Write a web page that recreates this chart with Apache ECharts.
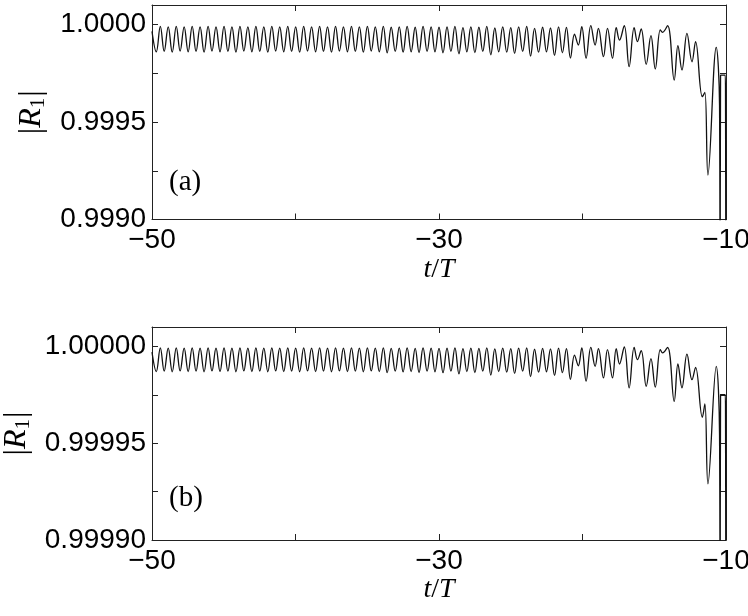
<!DOCTYPE html>
<html><head><meta charset="utf-8">
<script src="https://cdn.jsdelivr.net/npm/echarts@6/dist/echarts.min.js"></script>
<style>html,body{margin:0;padding:0;background:#fff}#c{width:748px;height:616px}</style>
</head><body><div id="c"></div>
<script>
// time (t/T) of each turning point of the trace
const tTurn = [
 -50.00,
 -49.70,-49.42,-49.15,-48.87,-48.59,-48.31,-48.04,-47.76,-47.48,-47.20,
 -46.93,-46.65,-46.37,-46.09,-45.82,-45.54,-45.26,-44.98,-44.71,-44.43,
 -44.15,-43.87,-43.60,-43.32,-43.04,-42.76,-42.49,-42.21,-41.93,-41.65,
 -41.38,-41.10,-40.82,-40.54,-40.27,-39.99,-39.71,-39.43,-39.16,-38.88,
 -38.60,-38.32,-38.05,-37.77,-37.49,-37.21,-36.94,-36.66,-36.38,-36.10,
 -35.83,-35.55,-35.27,-34.99,-34.72,-34.44,-34.16,-33.88,-33.61,-33.33,
 -33.05,-32.77,-32.50,-32.22,-31.94,-31.66,-31.39,-31.11,-30.83,-30.55,
 -30.28,-30.00,-29.72,-29.44,-29.17,-28.89,-28.61,-28.33,-28.06,-27.78,
 -27.50,-27.22,-26.95,-26.67,-26.39,-26.11,-25.84,-25.56,-25.28,-25.00,
 -24.73,-24.45,-24.17,-23.89,-23.62,-23.34,-23.06,-22.78,-22.51,-22.23,
 -21.95,-21.67,-21.40,-21.12,-20.84,-20.56,-20.29,
 -20.05,-19.75,-19.42,-19.12,-18.89,-18.54,-18.26,-17.91,-17.65,-17.42,
 -17.09,-16.75,-16.40,-16.17,-15.91,-15.56,-15.23,-14.93,-14.58,-14.42,
 -14.07,-13.61,-13.35,-13.07,-12.72,-12.37,-12.12,-11.65,-11.47,-11.26,
 -10.68,-10.45,-10.41,-10.38,-10.05,-10.03,-10.01
];
// panel (a): 1 - |R1|, in units of 1e-4
const devA = [
 0.35,
 1.40,0.10,1.38,0.12,1.42,0.10,1.36,0.12,1.40,0.10,
 1.38,0.12,1.42,0.10,1.36,0.12,1.40,0.10,1.38,0.12,
 1.42,0.10,1.36,0.12,1.40,0.10,1.38,0.12,1.42,0.10,
 1.36,0.12,1.40,0.10,1.38,0.12,1.42,0.10,1.36,0.12,
 1.40,0.10,1.38,0.12,1.42,0.10,1.36,0.12,1.40,0.10,
 1.38,0.12,1.42,0.10,1.36,0.12,1.40,0.10,1.45,0.14,
 1.38,0.12,1.42,0.10,1.40,0.14,1.44,0.10,1.38,0.12,
 1.40,0.14,1.45,0.12,1.38,0.10,1.50,0.16,1.40,0.12,
 1.44,0.14,1.38,0.10,1.55,0.18,1.40,0.12,1.42,0.16,
 1.48,0.12,1.38,0.10,1.62,0.20,1.42,0.14,1.40,0.18,
 1.58,0.12,1.45,0.15,1.72,0.50,1.05,
 0.11,1.73,0.06,1.05,0.20,1.65,0.20,1.73,0.16,0.80,
 0.06,2.16,0.16,0.88,0.23,2.04,0.57,2.28,0.28,0.40,
 0.06,2.85,1.09,2.33,0.45,1.91,0.88,3.70,3.48,7.72,
 1.17,4.13,15.0,2.60,2.60,4.60,15.0
];
// panel (b): 1 - |R1|, in units of 1e-5
const devB = [
 0.30,
 1.30,0.08,1.28,0.09,1.31,0.08,1.27,0.09,1.30,0.08,
 1.28,0.09,1.31,0.08,1.27,0.09,1.30,0.08,1.28,0.09,
 1.31,0.08,1.27,0.09,1.30,0.08,1.28,0.09,1.31,0.08,
 1.27,0.09,1.30,0.08,1.28,0.09,1.31,0.08,1.27,0.09,
 1.30,0.08,1.28,0.09,1.31,0.08,1.27,0.09,1.30,0.08,
 1.28,0.09,1.31,0.08,1.27,0.09,1.30,0.08,1.36,0.10,
 1.28,0.09,1.32,0.08,1.30,0.10,1.35,0.08,1.28,0.09,
 1.31,0.10,1.36,0.09,1.28,0.08,1.42,0.12,1.30,0.09,
 1.35,0.10,1.28,0.08,1.48,0.13,1.30,0.09,1.33,0.12,
 1.40,0.09,1.28,0.08,1.56,0.15,1.33,0.10,1.31,0.13,
 1.50,0.09,1.36,0.12,1.70,0.45,1.00,
 0.08,1.80,0.05,1.03,0.12,1.63,0.17,1.63,0.12,0.91,
 0.03,2.14,0.05,0.69,0.22,2.06,0.63,2.10,0.17,0.34,
 0.05,2.84,0.91,2.14,0.40,1.72,1.08,3.66,2.97,7.10,
 1.03,4.55,15.0,2.50,2.50,4.20,15.0
];
const xTickLabels = [-50, -30, -10];
const yLabelsA = [0.9990, 0.9995, 1.0000];
const yLabelsB = [0.99990, 0.99995, 1.00000];
const panelTags = ['(a)', '(b)'];

const dataA = tTurn.map((t, i) => [t, 1 - devA[i] * 1e-4]);
const dataB = tTurn.map((t, i) => [t, 1 - devB[i] * 1e-5]);

const AXC = '#222';
const sans = 'Liberation Sans, Arial, Helvetica, sans-serif';
const serif = 'Liberation Serif, DejaVu Serif, serif';
const FS = 28;

function xAxes(gi) {
  const base = {
    gridIndex: gi, type: 'value', min: -50, max: -10, interval: 10,
    axisLine: {show: true, onZero: false, lineStyle: {color: AXC, width: 1}},
    axisTick: {show: true, inside: true, length: 6, lineStyle: {color: AXC}},
    splitLine: {show: false}
  };
  return [
    Object.assign({}, base, {
      position: 'bottom',
      axisLabel: {
        margin: 7, color: '#000', fontFamily: sans, fontSize: FS,
        formatter: v => {
          const r = Math.round(v);
          return (Math.abs(v - r) < 1e-9 && xTickLabels.includes(r)) ? '\u2212' + Math.abs(r) : '';
        }
      },
      name: '{i|t}{n|/}{i|T}', nameLocation: 'middle', nameGap: 36,
      nameTextStyle: {
        color: '#000', fontFamily: serif, fontSize: 28,
        rich: {i: {fontStyle: 'italic', fontFamily: serif, fontSize: 28, color: '#000'},
               n: {fontFamily: serif, fontSize: 28, color: '#000'}}
      }
    }),
    Object.assign({}, base, {position: 'top', axisLabel: {show: false}})
  ];
}

function yAxes(gi, min, max, interval, labels, dec, gap) {
  const base = {
    gridIndex: gi, type: 'value', min: min, max: max, interval: interval,
    axisLine: {show: true, onZero: false, lineStyle: {color: AXC, width: 1}},
    axisTick: {show: true, inside: true, length: 6, lineStyle: {color: AXC}},
    splitLine: {show: false}
  };
  return [
    Object.assign({}, base, {
      position: 'left',
      axisLabel: {
        margin: 6, color: '#000', fontFamily: sans, fontSize: FS, showMaxLabel: false,
        formatter: v => {
          const hit = labels.find(l => Math.abs(l - v) < interval * 1e-3);
          return hit !== undefined ? hit.toFixed(dec) : '';
        }
      },
      name: '|{i|R}{s|1}|', nameLocation: 'middle', nameGap: gap, nameRotate: 90,
      nameTextStyle: {
        color: '#000', fontFamily: serif, fontSize: 32,
        rich: {
          i: {fontStyle: 'italic', fontFamily: serif, fontSize: 32, color: '#000'},
          s: {fontFamily: serif, fontSize: 21, color: '#000', verticalAlign: 'top', padding: [14, 1, 0, 0]}
        }
      }
    }),
    Object.assign({}, base, {position: 'right', axisLabel: {show: false}})
  ];
}

const chart = echarts.init(document.getElementById('c'), null, {renderer: 'canvas'});
chart.setOption({
  animation: false,
  backgroundColor: '#fff',
  grid: [
    {left: 152, top: 5, width: 574, height: 214.5, containLabel: false, outerBoundsMode: 'none'},
    {left: 152, top: 327, width: 574, height: 213, containLabel: false, outerBoundsMode: 'none'}
  ],
  xAxis: [...xAxes(0), ...xAxes(1)],
  yAxis: [
    ...yAxes(0, 0.9990, 1.0001, 0.00025, yLabelsA, 4, 100),
    ...yAxes(1, 0.99990, 1.00001, 0.000025, yLabelsB, 5, 116)
  ],
  graphic: [
    {type: 'text', left: 169, top: 168, style: {text: panelTags[0], font: '29px ' + serif, fill: '#000'}},
    {type: 'text', left: 169, top: 484, style: {text: panelTags[1], font: '29px ' + serif, fill: '#000'}}
  ],
  series: [
    {type: 'line', xAxisIndex: 0, yAxisIndex: 0, data: dataA, showSymbol: false, smooth: 0.4,
     clip: true, lineStyle: {color: '#111', width: 1.3}},
    {type: 'line', xAxisIndex: 2, yAxisIndex: 2, data: dataB, showSymbol: false, smooth: 0.4,
     clip: true, lineStyle: {color: '#111', width: 1.3}}
  ]
});
</script>
</body></html>
